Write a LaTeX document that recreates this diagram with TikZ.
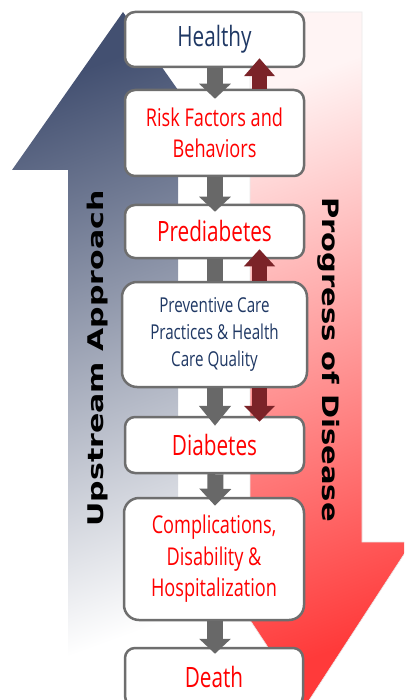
\documentclass[tikz,border=0pt]{standalone}
\usepackage{fontspec}
\setmainfont{Open Sans}[FakeStretch=0.74]
\newfontfamily\rotfont{DejaVu Sans Bold}
\usetikzlibrary{arrows.meta}
\definecolor{navy}{HTML}{1F3864}
\definecolor{boxred}{HTML}{FF0000}
\definecolor{boxline}{HTML}{6E6E6E}
\definecolor{garrow}{HTML}{686868}
\definecolor{rarrow}{HTML}{7B2328}
\definecolor{updark}{HTML}{435071}
\definecolor{redlight}{HTML}{FFF4F4}
\definecolor{redmid}{HTML}{FFA4A4}
\definecolor{reddark}{HTML}{FF3A3A}
\begin{document}
\begin{tikzpicture}[x=1pt,y=-1pt,
  box/.style={draw=boxline, line width=2.5pt, fill=white, rounded corners=10pt,
    minimum width=179pt, inner sep=0pt, align=center},
  redtext/.style={text=boxred},
  navytext/.style={text=navy},
  gdown/.style={draw=garrow, line width=16pt, -{Triangle[width=31pt,length=#1,color=garrow]}},
  rblock/.style={draw=rarrow, line width=15pt, -{Triangle[width=30pt,length=#1,color=rarrow]}},
  gshaft/.style={draw=garrow, line width=16pt},
  sidetext/.style={font=\rotfont\fontsize{29}{30}\selectfont, text=black, inner sep=0pt}
]
\useasboundingbox (0,0) rectangle (404,700);
\clip (0,0) rectangle (404,700);
\fill[white] (0,0) rectangle (404,700);

% background block arrows
\shade[top color=updark, bottom color=white, shading angle=20]
  (123,12) -- (178,90) -- (178,700) -- (68,700) -- (68,170) -- (12,170) -- cycle;
\shade[draw=black!8, line width=0.6pt, top color=redlight, middle color=redmid, bottom color=reddark, shading angle=20]
  (250,12) -- (362,12) -- (362,542) -- (412,542) -- (306,705) -- (250,620) -- cycle;

\node[sidetext, rotate=90, anchor=base, font=\rotfont\fontsize{30}{31}\selectfont] (up) at (103,358.5)
  {\scalebox{1}[0.72]{Upstream Approach}};
\node[sidetext, rotate=-90, anchor=base] (prog) at (322,359.5)
  {\scalebox{1}[0.78]{Progress of Disease}};

% boxes
\node[box, navytext, minimum height=55pt, font=\fontsize{28}{30}\selectfont] (healthy) at (214.5,39.5) {Healthy};
\node[box, redtext, minimum height=86pt, font=\fontsize{24.5}{31}\selectfont] (risk) at (214.5,133) {Risk Factors and\\Behaviors};
\node[box, redtext, minimum height=53pt, font=\fontsize{28}{30}\selectfont] (pre) at (214.5,231.5) {Prediabetes};
\node[box, navytext, minimum width=185pt, minimum height=105pt, rounded corners=15pt, font=\fontsize{20.5}{27}\selectfont] (prev) at (214.5,334.5) {\raisebox{-3pt}{\begin{tabular}{@{}c@{}}Preventive Care\\[-0pt]Practices \& Health\\Care Quality\end{tabular}}};
\node[box, redtext, minimum height=56pt, font=\fontsize{28}{30}\selectfont] (diab) at (214.5,445) {Diabetes};
\node[box, redtext, minimum width=180pt, minimum height=122pt, rounded corners=15pt, font=\fontsize{24.5}{31.5}\selectfont] (comp) at (214,559) {Complications,\\Disability \&\\Hospitalization};
\node[box, redtext, minimum width=178pt, minimum height=58pt, font=\fontsize{28}{30}\selectfont] (death) at (214,677) {Death};

% connectors
\draw[gdown=15pt] ([xshift=0.5pt]healthy.south) -- ([xshift=0.5pt,yshift=-10pt]risk.north);
\draw[rblock=18pt] ([xshift=45pt]risk.north) -- ([xshift=45pt,yshift=10pt]healthy.south);
\draw[gdown=15pt] ([xshift=0.5pt]risk.south) -- ([xshift=0.5pt,yshift=-8pt]pre.north);
\draw[gshaft] ([xshift=0.5pt]pre.south) -- ([xshift=0.5pt]prev.north);
\draw[rblock=17pt] ([xshift=45pt]prev.north) -- ([xshift=45pt,yshift=10pt]pre.south);
\draw[gdown=20pt] ([xshift=0.5pt]prev.south) -- ([xshift=0.5pt,yshift=-10pt]diab.north);
\draw[rblock=16pt] ([xshift=45pt]prev.south) -- ([xshift=45pt,yshift=-6pt]diab.north);
\draw[gdown=17pt] ([xshift=1pt]diab.south) -- ([xshift=1pt,yshift=-9pt]comp.north);
\draw[gdown=15pt] ([xshift=1pt]comp.south) -- ([xshift=1pt,yshift=-7pt]death.north);
\end{tikzpicture}
\end{document}
